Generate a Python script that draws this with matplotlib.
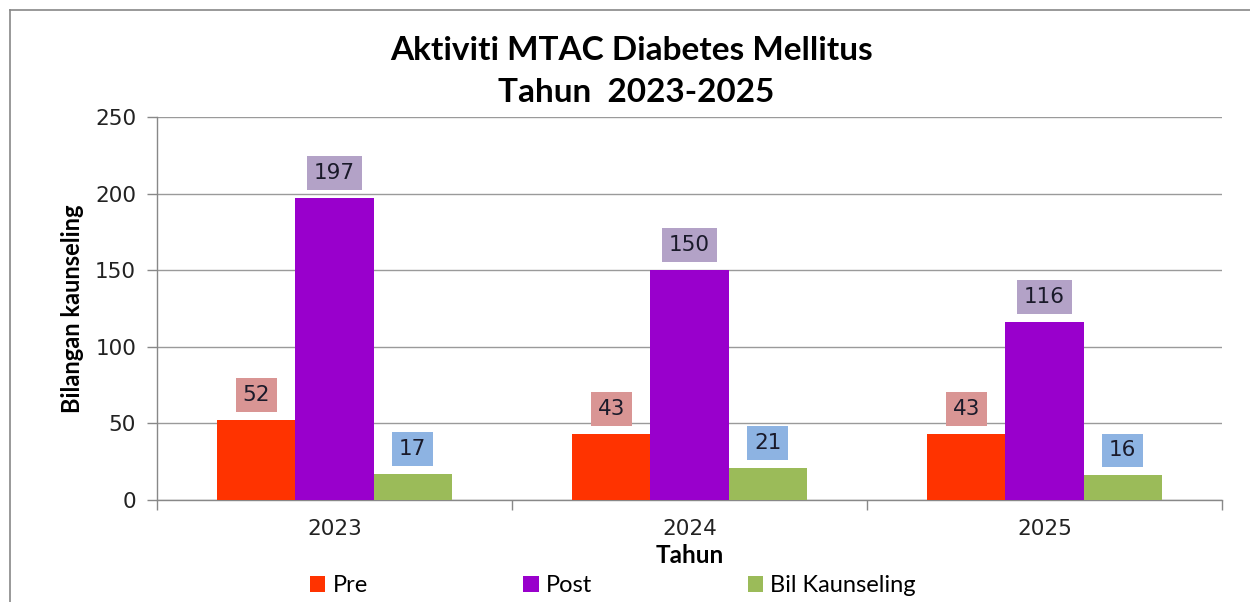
import matplotlib
matplotlib.use("Agg")
import matplotlib.pyplot as plt
import numpy as np
from matplotlib.patches import Patch
from matplotlib.lines import Line2D

years = ["2023", "2024", "2025"]
series_names = ["Pre", "Post", "Bil Kaunseling"]
pre = [52, 43, 43]
post = [197, 150, 116]
bil = [17, 21, 16]
values = [pre, post, bil]
bar_colors = ["#ff3300", "#9900cc", "#9bbb59"]
label_colors = ["#d99594", "#b3a2c7", "#8db3e2"]
yticks = [0, 50, 100, 150, 200, 250]

W, H = 1250, 602
fig = plt.figure(figsize=(W / 100, H / 100), dpi=100)
ax = fig.add_axes([157 / W, 1 - 500 / H, (1222 - 157) / W, (500 - 117) / H])

NUMFS = 15.5
x = np.arange(len(years))
bw = 0.22
for i, (vals, col, lcol) in enumerate(zip(values, bar_colors, label_colors)):
    pos = x + (i - 1) * bw
    bars = ax.bar(pos, vals, width=bw, color=col, zorder=3, linewidth=0)
    for b, v in zip(bars, vals):
        ax.annotate(str(v), (b.get_x() + b.get_width() / 2, v),
                    xytext=(0, 18), textcoords="offset points",
                    ha="center", va="center", fontsize=NUMFS,
                    family="DejaVu Sans", color="#1a1a2a", zorder=5,
                    bbox=dict(boxstyle="square,pad=0.32", fc=lcol, ec="none"))

ax.set_xlim(-0.5, 2.5)
ax.set_ylim(0, 250)
ax.set_yticks(yticks)
ax.set_yticklabels([str(t) for t in yticks], fontsize=NUMFS, family="DejaVu Sans", color="#222222")
ax.yaxis.grid(True, color="#9a9a9a", linewidth=1.0, zorder=0)
ax.set_axisbelow(True)

ax.set_xticks([-0.5, 0.5, 1.5, 2.5])
ax.set_xticklabels([])
ax.set_xticks(x, minor=True)
ax.set_xticklabels(years, minor=True, fontsize=NUMFS, family="DejaVu Sans", color="#222222")
ax.tick_params(axis="x", which="major", length=7, color="#888888", width=1)
ax.tick_params(axis="x", which="minor", length=0, pad=14)
ax.tick_params(axis="y", length=7, color="#888888", width=1, pad=8)

for s in ["top", "right"]:
    ax.spines[s].set_visible(False)
for s in ["left", "bottom"]:
    ax.spines[s].set_color("#888888")
    ax.spines[s].set_linewidth(1)

ax.set_xlabel("Tahun", fontsize=17.5, fontweight="bold", family="Lato", labelpad=3)
ax.set_ylabel("Bilangan kaunseling", fontsize=17, fontweight="bold", family="Lato", labelpad=8)

fig.text(632 / W, 1 - 50 / H, "Aktiviti MTAC Diabetes Mellitus", ha="center", va="center",
         fontsize=24, fontweight="bold", family="Lato")
fig.text(636 / W, 1 - 92 / H, "Tahun  2023-2025", ha="center", va="center",
         fontsize=24, fontweight="bold", family="Lato")

handles = [Patch(facecolor=c, edgecolor="none") for c in bar_colors]
fig.legend(handles, series_names, loc="center", bbox_to_anchor=(613 / W, 1 - 586 / H),
           ncol=3, frameon=False, prop={"family": "Lato", "size": 17},
           handlelength=0.65, handleheight=0.65, handletextpad=0.3, columnspacing=6.6,
           borderpad=0, borderaxespad=0)

# outer frame (partially cropped)
fig.add_artist(Line2D([10 / W, 10 / W], [0, 1 - 10 / H], color="#888888", lw=1.2))
fig.add_artist(Line2D([10 / W, 1], [1 - 10 / H, 1 - 10 / H], color="#888888", lw=1.2))

fig.savefig("out.png", dpi=100)
